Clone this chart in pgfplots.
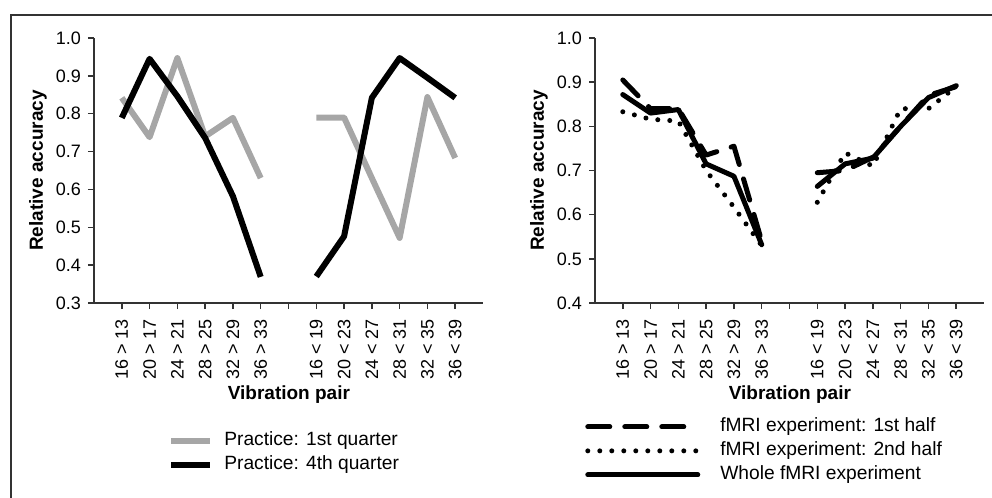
\documentclass[border=0pt]{standalone}
\usepackage{fontspec}
\setmainfont{Liberation Sans}
\usepackage{pgfplots}
\pgfplotsset{compat=1.18}
\definecolor{lightgr}{HTML}{A6A6A6}
\definecolor{axgr}{HTML}{333333}
\pgfplotsset{
  common/.style={
    scale only axis, width=194.5pt, height=132.5pt,
    xmin=-1, xmax=13,
    axis x line=bottom, axis y line=left,
    axis line style={-, line width=0.75pt, color=axgr},
    every tick/.style={line width=0.75pt, color=axgr},
    tick align=outside, major tick length=3pt,
    xtick={0,...,12},
    xticklabels={16 > 13, 20 > 17, 24 > 21, 28 > 25, 32 > 29, 36 > 33, {}, 16 < 19, 20 < 23, 24 < 27, 28 < 31, 32 < 35, 36 < 39},
    xticklabel style={rotate=90, anchor=east, font=\fontsize{9}{10}\selectfont},
    xticklabel shift=1.5pt,
    yticklabel style={font=\fontsize{9}{10}\selectfont, /pgf/number format/.cd, fixed, fixed zerofill, precision=1, assume math mode=true},
    ylabel={Relative accuracy},
    ylabel style={font=\bfseries\fontsize{9.5}{11}\selectfont, at={(axis description cs:-0.144,0.5)}, anchor=center},
    xlabel={Vibration pair},
    xlabel style={font=\bfseries\fontsize{9.5}{11}\selectfont, at={(axis description cs:0.501,-0.347)}, anchor=center},
    unbounded coords=jump,
    clip=false,
    legend cell align=left,
  },
  leftleg/.style={legend image code/.code={\draw[##1] (1.5pt,0pt) -- (21pt,0pt);}},
  rightleg/.style={legend image code/.code={\draw[##1] (1.25pt,0pt) -- (56.25pt,0pt);}},
}
\begin{document}
\begin{tikzpicture}
\useasboundingbox (0,0) rectangle (496pt,-249pt);
\draw[line width=1pt, color=axgr] (5.5pt,-249pt) -- (5.5pt,-7.5pt) -- (496pt,-7.5pt);

\begin{axis}[common, leftleg, at={(47pt,-151.5pt)}, anchor=south west,
  ymin=0.3, ymax=1.0, ytick={0.3,0.4,...,1.0},
  legend style={draw=none, fill=none, at={(axis description cs:0.19,-0.566)}, anchor=west,
    font=\fontsize{9.6}{12}\selectfont, row sep=2pt, column sep=5.5pt, inner sep=0pt,
    nodes={inner sep=0pt, text height=7.5pt, text depth=2.5pt}},
]
\addplot[lightgr, line width=3pt, line join=round] coordinates {(0,0.842)(1,0.738)(2,0.947)(3,0.74)(4,0.789)(5,0.63)(6,nan)(7,0.79)(8,0.79)(9,0.63)(10,0.472)(11,0.844)(12,0.683)};
\addlegendentry{Practice: 1st quarter}
\addplot[black, line width=3pt, line join=round] coordinates {(0,0.789)(1,0.945)(2,0.846)(3,0.736)(4,0.582)(5,0.369)(6,nan)(7,0.37)(8,0.476)(9,0.842)(10,0.947)(11,0.895)(12,0.842)};
\addlegendentry{Practice: 4th quarter}
\end{axis}

\begin{axis}[common, rightleg, at={(297.5pt,-151.5pt)}, anchor=south west,
  ymin=0.4, ymax=1.0, ytick={0.4,0.5,...,1.0},
  legend style={draw=none, fill=none, at={(axis description cs:-0.026,-0.558)}, anchor=west,
    font=\fontsize{9.6}{12}\selectfont, row sep=2pt, column sep=10pt, inner sep=0pt,
    nodes={inner sep=0pt, text height=7.5pt, text depth=2.5pt}},
]
\addplot[black, line width=2.5pt, line cap=round, line join=round, dash pattern=on 11pt off 7.5pt] coordinates {(0,0.905)(1,0.84)(2,0.84)(3,0.735)(4,0.755)(5,0.54)(6,nan)(7,0.695)(8,0.70)(9,0.73)(10,0.80)(11,0.87)(12,0.89)};
\addlegendentry{fMRI experiment: 1st half}
\addplot[black, line width=2.5pt, line cap=round, dash pattern=on 0pt off 6pt] coordinates {(0,0.833)(1,0.816)(2,0.812)(3,0.70)(4,0.617)(5,0.53)(6,nan)(7,0.628)(8,0.74)(9,0.71)(10,0.84)(11,0.84)(12,0.89)};
\addlegendentry{fMRI experiment: 2nd half}
\addplot[black, line width=2.5pt, line cap=round, line join=round] coordinates {(0,0.872)(1,0.83)(2,0.838)(3,0.715)(4,0.687)(5,0.532)(6,nan)(7,0.664)(8,0.715)(9,0.728)(10,0.80)(11,0.865)(12,0.892)};
\addlegendentry{Whole fMRI experiment}
\end{axis}
\end{tikzpicture}
\end{document}
